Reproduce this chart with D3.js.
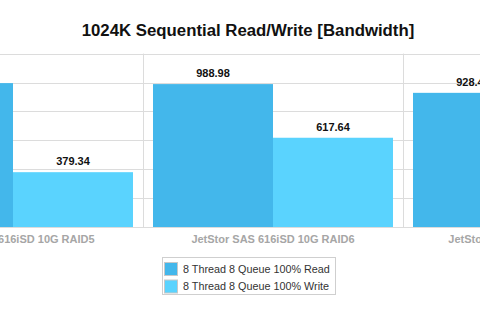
<!DOCTYPE html>
<html><head><meta charset="utf-8">
<script src="https://cdn.jsdelivr.net/npm/d3@7"></script>
<style>html,body{margin:0;padding:0;background:#fff;}svg{display:block;font-family:"Liberation Sans",Arial,Helvetica,sans-serif;}</style>
</head><body>
<script>
const categories = ["JetStor SAS 616iSD 10G RAID5", "JetStor SAS 616iSD 10G RAID6", "JetStor SAS 616iSD 10G RAID10"];
const seriesNames = ["8 Thread 8 Queue 100% Read", "8 Thread 8 Queue 100% Write"];
const readValues = [995.8, 988.98, 928.45];
const writeValues = [379.34, 617.64, 560.12];
const yTicks = [0, 200, 400, 600, 800, 1000, 1200];
const colors = ["#43b7eb", "#5ad3fe"];

const W = 480, H = 318;
const svg = d3.select("body").append("svg").attr("width", W).attr("height", H);

svg.append("text").attr("x", 248).attr("y", 36).attr("text-anchor", "middle")
  .attr("font-size", 16.8).attr("font-weight", "bold").attr("fill", "#111")
  .text("1024K Sequential Read/Write [Bandwidth]");

const y = d3.scaleLinear().domain([0, 1200]).range([227, 53.6]);
const x0 = d3.scaleBand().domain(categories).range([-117, 663]).padding(0);
const x1 = d3.scaleBand().domain(seriesNames).range([0, x0.bandwidth()]).paddingInner(0).paddingOuter(10/120);

// gridlines
svg.append("g").selectAll("line").data(yTicks).join("line")
  .attr("x1", 0).attr("x2", W)
  .attr("y1", d => Math.round(y(d)) + 0.5).attr("y2", d => Math.round(y(d)) + 0.5)
  .attr("stroke", "#dcdcdc").attr("stroke-width", 1);

// vertical dividers between categories
const divs = categories.slice(1).map(c => x0(c));
svg.append("g").selectAll("line").data(divs).join("line")
  .attr("x1", d => Math.round(d) + 0.5).attr("x2", d => Math.round(d) + 0.5)
  .attr("y1", y(1200)).attr("y2", y(0))
  .attr("stroke", "#dcdcdc").attr("stroke-width", 1);

const rows = [];
categories.forEach((c, i) => {
  rows.push({cat: c, s: seriesNames[0], v: readValues[i], col: colors[0]});
  rows.push({cat: c, s: seriesNames[1], v: writeValues[i], col: colors[1]});
});

svg.append("g").selectAll("rect").data(rows).join("rect")
  .attr("x", d => x0(d.cat) + x1(d.s))
  .attr("width", x1.bandwidth())
  .attr("y", d => y(d.v))
  .attr("height", d => y(0) - y(d.v))
  .attr("fill", d => d.col);

svg.append("g").selectAll("text").data(rows).join("text")
  .attr("x", d => x0(d.cat) + x1(d.s) + x1.bandwidth() / 2)
  .attr("y", d => y(d.v) - 7)
  .attr("text-anchor", "middle").attr("font-size", 11).attr("font-weight", "bold").attr("fill", "#111")
  .text(d => d.v.toFixed(2));

// category labels
svg.append("g").selectAll("text").data(categories).join("text")
  .attr("x", d => x0(d) + x0.bandwidth() / 2)
  .attr("y", 242.5)
  .attr("text-anchor", "middle").attr("font-size", 11).attr("font-weight", "bold").attr("fill", "#a6a6a6")
  .text(d => d);

// legend
const lg = svg.append("g");
lg.append("rect").attr("x", 162.5).attr("y", 257.5).attr("width", 173).attr("height", 37)
  .attr("fill", "#fff").attr("stroke", "#cfcfcf");
seriesNames.forEach((s, i) => {
  const yy = 262 + i * 17.5;
  lg.append("rect").attr("x", 164.5).attr("y", yy + 0.5).attr("width", 13).attr("height", 13)
    .attr("fill", colors[i]).attr("stroke", "#c8c8c8");
  lg.append("text").attr("x", 183).attr("y", yy + 10.5).attr("font-size", 10.8).attr("fill", "#333")
    .text(s);
});
</script>
</body></html>
